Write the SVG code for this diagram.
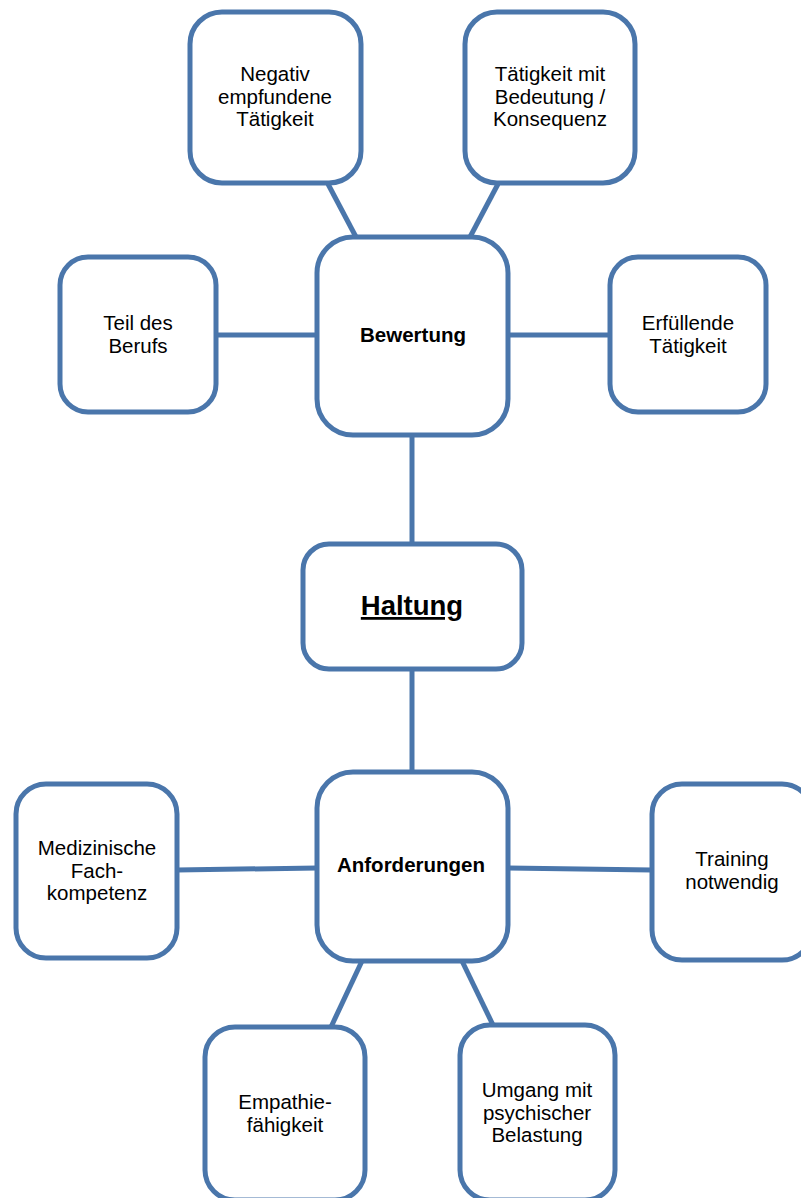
<svg xmlns="http://www.w3.org/2000/svg" width="801" height="1198" viewBox="0 0 801 1198">
<style>
.box{fill:#fff;stroke:#4a76ab;stroke-width:5}
.con{stroke:#4a76ab;stroke-width:5;fill:none}
text{font-family:"Liberation Sans",Arial,sans-serif;font-size:20.5px;fill:#000;text-anchor:middle}
.b{font-weight:bold}
</style>
<rect width="801" height="1198" fill="#fff"/>
<g id="connectors">
<line class="con" x1="328" y1="184" x2="356" y2="237"/>
<line class="con" x1="498" y1="184" x2="470" y2="237"/>
<line class="con" x1="216" y1="335" x2="317" y2="335"/>
<line class="con" x1="508" y1="335" x2="610" y2="335"/>
<line class="con" x1="412" y1="435" x2="412" y2="544"/>
<line class="con" x1="412" y1="669" x2="412" y2="772"/>
<line class="con" x1="177" y1="870" x2="317" y2="868"/>
<line class="con" x1="508" y1="868" x2="652" y2="870"/>
<line class="con" x1="362" y1="961" x2="331" y2="1027"/>
<line class="con" x1="462" y1="961" x2="493" y2="1025"/>
</g>
<g id="n-negativ"><rect class="box" x="190" y="12" width="171" height="171" rx="32"/>
<text x="275" y="81">Negativ</text><text x="275" y="103.5">empfundene</text><text x="275" y="126">Tätigkeit</text></g>
<g id="n-bedeutung"><rect class="box" x="465" y="12" width="170" height="171" rx="32"/>
<text x="550" y="81">Tätigkeit mit</text><text x="550" y="103.5">Bedeutung /</text><text x="550" y="126">Konsequenz</text></g>
<g id="n-bewertung"><rect class="box" x="317" y="237" width="191" height="198" rx="36"/>
<text class="b" x="413" y="342">Bewertung</text></g>
<g id="n-teil"><rect class="box" x="60" y="257" width="156" height="155" rx="28"/>
<text x="138" y="330">Teil des</text><text x="138" y="353">Berufs</text></g>
<g id="n-erfuellende"><rect class="box" x="610" y="257" width="156" height="155" rx="28"/>
<text x="688" y="330">Erfüllende</text><text x="688" y="353">Tätigkeit</text></g>
<g id="n-haltung"><rect class="box" x="303" y="544" width="219" height="125" rx="26"/>
<text class="b" x="412" y="615" style="font-size:27.5px;text-decoration:underline">Haltung</text></g>
<g id="n-anforderungen"><rect class="box" x="317" y="772" width="191" height="189" rx="36"/>
<text class="b" x="411" y="872">Anforderungen</text></g>
<g id="n-medizinische"><rect class="box" x="16" y="784" width="161" height="174" rx="30"/>
<text x="97" y="855">Medizinische</text><text x="97" y="877.5">Fach-</text><text x="97" y="900">kompetenz</text></g>
<g id="n-training"><rect class="box" x="652" y="784" width="160" height="176" rx="30"/>
<text x="732" y="866">Training</text><text x="732" y="888.5">notwendig</text></g>
<g id="n-empathie"><rect class="box" x="205" y="1027" width="160" height="173" rx="30"/>
<text x="285" y="1109">Empathie-</text><text x="285" y="1131.5">fähigkeit</text></g>
<g id="n-umgang"><rect class="box" x="460" y="1025" width="155" height="175" rx="30"/>
<text x="537" y="1097">Umgang mit</text><text x="537" y="1119.5">psychischer</text><text x="537" y="1142">Belastung</text></g>
</svg>
